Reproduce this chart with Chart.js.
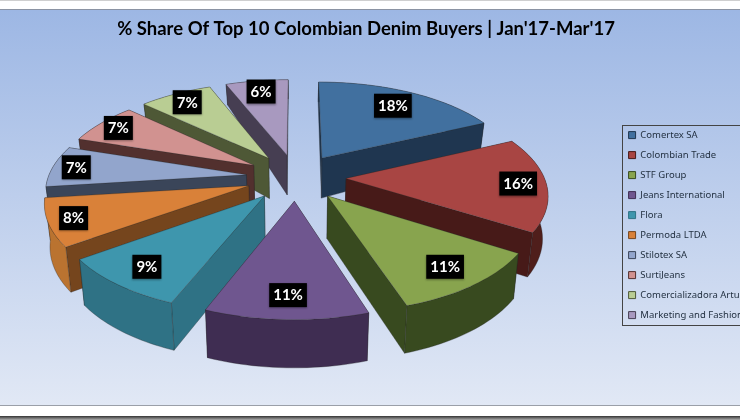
<!DOCTYPE html>
<html>
<head>
<meta charset="utf-8">
<title>Colombian Denim Buyers</title>
<script src="https://cdn.jsdelivr.net/npm/chart.js@4/dist/chart.umd.min.js"></script>
<style>
  html, body { margin: 0; padding: 0; background: #fff; overflow: hidden; }
  #page { position: relative; width: 740px; height: 420px; overflow: hidden; }
  #topline { position: absolute; left: 0; top: 0; width: 740px; height: 1px; background: #cfcfcf; }
  #panel {
    position: absolute; left: 0; top: 9px; width: 740px; height: 397px;
    box-sizing: border-box; border-top: 1px solid #8b93a3; border-bottom: 1px solid #9a9fa8;
    background: linear-gradient(#9db7e4, #e1e8f5);
  }
  #bottomline { position: absolute; left: 0; top: 416px; width: 740px; height: 4px; background: linear-gradient(#333, #aaa); }
  canvas { position: absolute; left: 0; top: 0; }
</style>
</head>
<body>
<div id="page">
  <div id="topline"></div>
  <div id="panel"></div>
  <div id="bottomline"></div>
  <canvas id="pie" width="800" height="420"></canvas>
</div>
<script>
const buyers = ['Comertex SA', 'Colombian Trade', 'STF Group', 'Jeans International', 'Flora',
  'Permoda LTDA', 'Stilotex SA', 'SurtiJeans', 'Comercializadora Arturo', 'Marketing and Fashion'];
const shares = [18, 16, 11, 11, 9, 8, 7, 7, 7, 6];

const topColors = ['#41709f', '#a84543', '#88a44e', '#6f568f', '#3e96ad', '#d98139', '#92a5cc', '#d19290', '#b9cd93', '#a899bf'];
const cutColors = ['#1f3650', '#471a18', '#384a1f', '#3f2d52', '#2f7285', '#75451d', '#3a4559', '#52302e', '#4e5836', '#463e52'];
const rimColors = ['#1f3650', '#4f1e1b', '#384a1f', '#3f2d52', '#2f7285', '#ba7330', '#3a4559', '#52302e', '#4e5836', '#463e52'];
// how far out along the slice each black tag sits
const tagPull = [0.78, 0.86, 0.82, 0.82, 0.82, 0.88, 0.88, 0.88, 0.86, 0.84];

// fake 3d view of the flat pie
const view = { cx: 296, cy: 177, tilt: 0.467, persp: 0.15 };

function project(arc, x, y) {
  const r = arc.outerRadius;
  const u = x / r, v = y / r;
  const s = 1 / (1 - view.persp * v);
  return { x: view.cx + r * u * s, y: view.cy + r * view.tilt * v * s, v: v };
}

function sunk(p) {
  // side walls are shorter towards the back
  const d = p.v < -0.25 ? 40 + (p.v + 0.25) * 21 : 40 + (p.v + 0.25) * 5.5;
  return { x: view.cx + (p.x - view.cx) * 0.978, y: p.y + d };
}

function polygon(ctx, pts, fill, line) {
  ctx.beginPath();
  pts.forEach((p, i) => i ? ctx.lineTo(p.x, p.y) : ctx.moveTo(p.x, p.y));
  ctx.closePath();
  ctx.fillStyle = fill;
  ctx.fill();
  ctx.strokeStyle = line;
  ctx.lineWidth = 0.6;
  ctx.stroke();
}

function drawSlice(ctx, arc, i) {
  const mid = (arc.startAngle + arc.endAngle) / 2;
  const off = arc.options.offset;
  const ox = off * Math.cos(mid), oy = off * Math.sin(mid);
  const apex = project(arc, ox, oy);
  const rim = [];
  for (let k = 0; k <= 24; k++) {
    const a = arc.startAngle + (arc.endAngle - arc.startAngle) * k / 24;
    rim.push(project(arc, ox + arc.outerRadius * Math.cos(a), oy + arc.outerRadius * Math.sin(a)));
  }
  const avg = rim.reduce((t, p) => t + p.v, 0) / rim.length;
  const sides = [
    { pts: [apex, rim[0], sunk(rim[0]), sunk(apex)], v: (apex.v + rim[0].v) / 2, color: cutColors[i] },
    { pts: [apex, rim[24], sunk(rim[24]), sunk(apex)], v: (apex.v + rim[24].v) / 2, color: cutColors[i] },
    { pts: rim.concat(rim.map(sunk).reverse()), v: avg, color: rimColors[i] }
  ];
  sides.sort((a, b) => a.v - b.v).forEach(f => polygon(ctx, f.pts, f.color, '#22222288'));
  polygon(ctx, [apex].concat(rim), topColors[i], '#33333366');
}

function drawTag(ctx, arc, text, pull) {
  const mid = (arc.startAngle + arc.endAngle) / 2;
  const off = arc.options.offset + arc.outerRadius * pull;
  const p = project(arc, off * Math.cos(mid), off * Math.sin(mid));
  ctx.font = 'bold 15px Lato';
  const w = ctx.measureText(text).width + 8;
  ctx.save();
  ctx.shadowColor = 'rgba(0,0,0,0.35)';
  ctx.shadowBlur = 2;
  ctx.shadowOffsetY = 1;
  ctx.fillStyle = '#000';
  ctx.fillRect(p.x - w / 2, p.y - 12, w, 24);
  ctx.restore();
  ctx.fillStyle = '#fff';
  ctx.textAlign = 'center';
  ctx.textBaseline = 'middle';
  ctx.fillText(text, p.x, p.y + 0.5);
}

const pie3d = {
  id: 'pie3d',
  afterLayout(chart) {
    // title is centred on the plot part, legend runs off the right edge
    chart.titleBlock.right = 732;
  },
  beforeDatasetsDraw(chart) {
    const ctx = chart.ctx;
    const arcs = chart.getDatasetMeta(0).data;
    const order = arcs.map((a, i) => i).sort((a, b) =>
      Math.sin((arcs[a].startAngle + arcs[a].endAngle) / 2) - Math.sin((arcs[b].startAngle + arcs[b].endAngle) / 2));
    ctx.save();
    order.forEach(i => drawSlice(ctx, arcs[i], i));
    arcs.forEach((arc, i) => drawTag(ctx, arc, shares[i] + '%', tagPull[i]));
    ctx.restore();
    return false;
  },
  beforeDraw(chart) {
    // frame round the legend
    const hits = chart.legend.legendHitBoxes;
    const ctx = chart.ctx;
    const top = hits[0].top - 5;
    const bottom = hits[hits.length - 1].top + hits[hits.length - 1].height + 5;
    ctx.save();
    ctx.strokeStyle = '#444';
    ctx.lineWidth = 1;
    ctx.strokeRect(622.5, Math.round(top) + 0.5, 200, Math.round(bottom - top));
    ctx.restore();
  }
};

new Chart(document.getElementById('pie'), {
  type: 'pie',
  data: {
    labels: buyers,
    datasets: [{
      data: shares,
      backgroundColor: topColors,
      borderColor: cutColors,
      borderWidth: 1,
      offset: 50
    }]
  },
  options: {
    responsive: false,
    animation: false,
    radius: 198,
    layout: { padding: { right: 41, bottom: 10 } },
    plugins: {
      tooltip: { enabled: false },
      title: {
        display: true,
        text: "% Share Of Top 10 Colombian Denim Buyers | Jan'17-Mar'17",
        color: '#000',
        font: { family: 'Lato', size: 18.5, weight: 'bold' },
        padding: { top: 18, bottom: 0 }
      },
      legend: {
        position: 'right',
        fullSize: false,
        labels: {
          color: '#1f2d3d',
          font: { family: 'Noto Sans', size: 9.5 },
          boxWidth: 7,
          boxHeight: 7,
          padding: 10.5
        }
      }
    }
  },
  plugins: [pie3d]
});
</script>
</body>
</html>
